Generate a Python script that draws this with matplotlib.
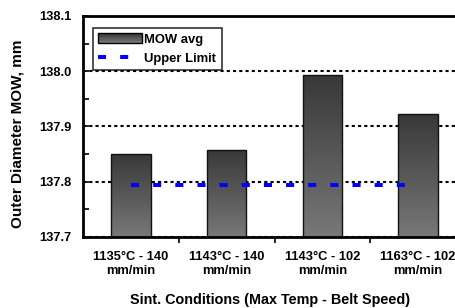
import numpy as np
import matplotlib
matplotlib.use('Agg')
import matplotlib.pyplot as plt
from matplotlib.patches import Rectangle
from matplotlib.legend_handler import HandlerBase
from matplotlib.colors import LinearSegmentedColormap
from matplotlib.ticker import MultipleLocator, FormatStrFormatter

# data
conditions = ['1135°C - 140\nmm/min', '1143°C - 140\nmm/min',
              '1143°C - 102\nmm/min', '1163°C - 102\nmm/min']
mow_avg = [137.851, 137.858, 137.993, 137.923]
upper_limit = [137.795, 137.795, 137.795, 137.795]

plt.rcParams['font.family'] = ['Liberation Sans', 'DejaVu Sans']
plt.rcParams['font.weight'] = 'bold'

TOP_GRAY = np.array([0.22, 0.22, 0.22])
BOT_GRAY = np.array([0.47, 0.47, 0.47])


class GradientHandler(HandlerBase):
    # legend swatch drawn as stacked strips, dark on top
    def create_artists(self, legend, orig_handle, xdescent, ydescent,
                       width, height, fontsize, trans):
        n = 12
        arts = []
        for i in range(n):
            c = BOT_GRAY + (TOP_GRAY - BOT_GRAY) * (i / (n - 1))
            r = Rectangle((-xdescent, -ydescent + height * i / n), width, height / n + 0.3,
                          facecolor=c, edgecolor='none', transform=trans)
            arts.append(r)
        arts.append(Rectangle((-xdescent, -ydescent), width, height, facecolor='none',
                              edgecolor='black', linewidth=1.0, transform=trans))
        return arts


fig = plt.figure(figsize=(4.56, 3.08), dpi=100)
ax = fig.add_axes([83 / 456, 71 / 308, 383 / 456, 221 / 308])

x = np.arange(len(conditions))
bars = ax.bar(x, mow_avg, width=0.41, bottom=0, color='none', edgecolor='#111111',
              linewidth=1.0, zorder=3)

grad = np.linspace(0, 1, 256).reshape(-1, 1)
cmap = LinearSegmentedColormap.from_list('g', [TOP_GRAY, BOT_GRAY])
for b in bars:
    bx, bw, bh = b.get_x(), b.get_width(), b.get_height()
    im = ax.imshow(grad, cmap=cmap, aspect='auto', extent=[bx, bx + bw, 137.7, bh],
                   origin='upper', zorder=2.5)
    im.set_clip_path(b)

ax.plot(x, upper_limit, color='#0000ff', linewidth=2.9, linestyle=(0, (2.0, 3.5)),
        zorder=4, label='Upper Limit')

ax.set_xlim(-0.5, 3.5)
ax.set_ylim(137.7, 138.1)
ax.yaxis.set_major_locator(MultipleLocator(0.1))
ax.yaxis.set_minor_locator(MultipleLocator(0.05))
ax.yaxis.set_major_formatter(FormatStrFormatter('%.1f'))
ax.yaxis.grid(True, color='black', linewidth=1.5, linestyle=(0, (1.5, 1.5)), zorder=1)
ax.set_axisbelow(True)

ax.set_xticks(x)
ax.set_xticklabels(conditions, fontsize=9.3, fontweight='bold')
ax.set_xticks([0.5, 1.5, 2.5], minor=True)
ax.tick_params(axis='x', which='major', length=0, pad=10)
ax.tick_params(axis='x', which='minor', direction='out', length=4, width=1.2)
ax.tick_params(axis='y', which='both', direction='in', length=4, width=1.2,
               labelsize=9.3, pad=8.5)
for lab in ax.get_yticklabels():
    lab.set_fontweight('bold')

for side in ['left', 'bottom', 'top']:
    ax.spines[side].set_linewidth(2)
    ax.spines[side].set_zorder(5)
ax.spines['right'].set_visible(False)

fig.text(18 / 456, 1 - 134 / 308, 'Outer Diameter MOW, mm', rotation=90,
         ha='center', va='center', fontsize=11, fontweight='bold')
fig.text(270 / 456, 1 - 300 / 308, 'Sint. Conditions (Max Temp - Belt Speed)',
         ha='center', va='center', fontsize=10.4, fontweight='bold')

handles = [bars, ax.get_lines()[0]]
leg = ax.legend(handles, ['MOW avg', 'Upper Limit'], loc='upper left',
                bbox_to_anchor=(10 / 383, 1 - 12 / 221), borderaxespad=0,
                fontsize=9.4, frameon=True, fancybox=False,
                handlelength=3.3, handleheight=0.75, handletextpad=0.2, borderpad=0.42,
                labelspacing=0.5, handler_map={type(bars): GradientHandler()})
leg.get_frame().set_edgecolor('black')
leg.get_frame().set_linewidth(1.2)
leg.set_zorder(6)
for t in leg.get_texts():
    t.set_fontweight('bold')

fig.savefig('out.png', dpi=100)
